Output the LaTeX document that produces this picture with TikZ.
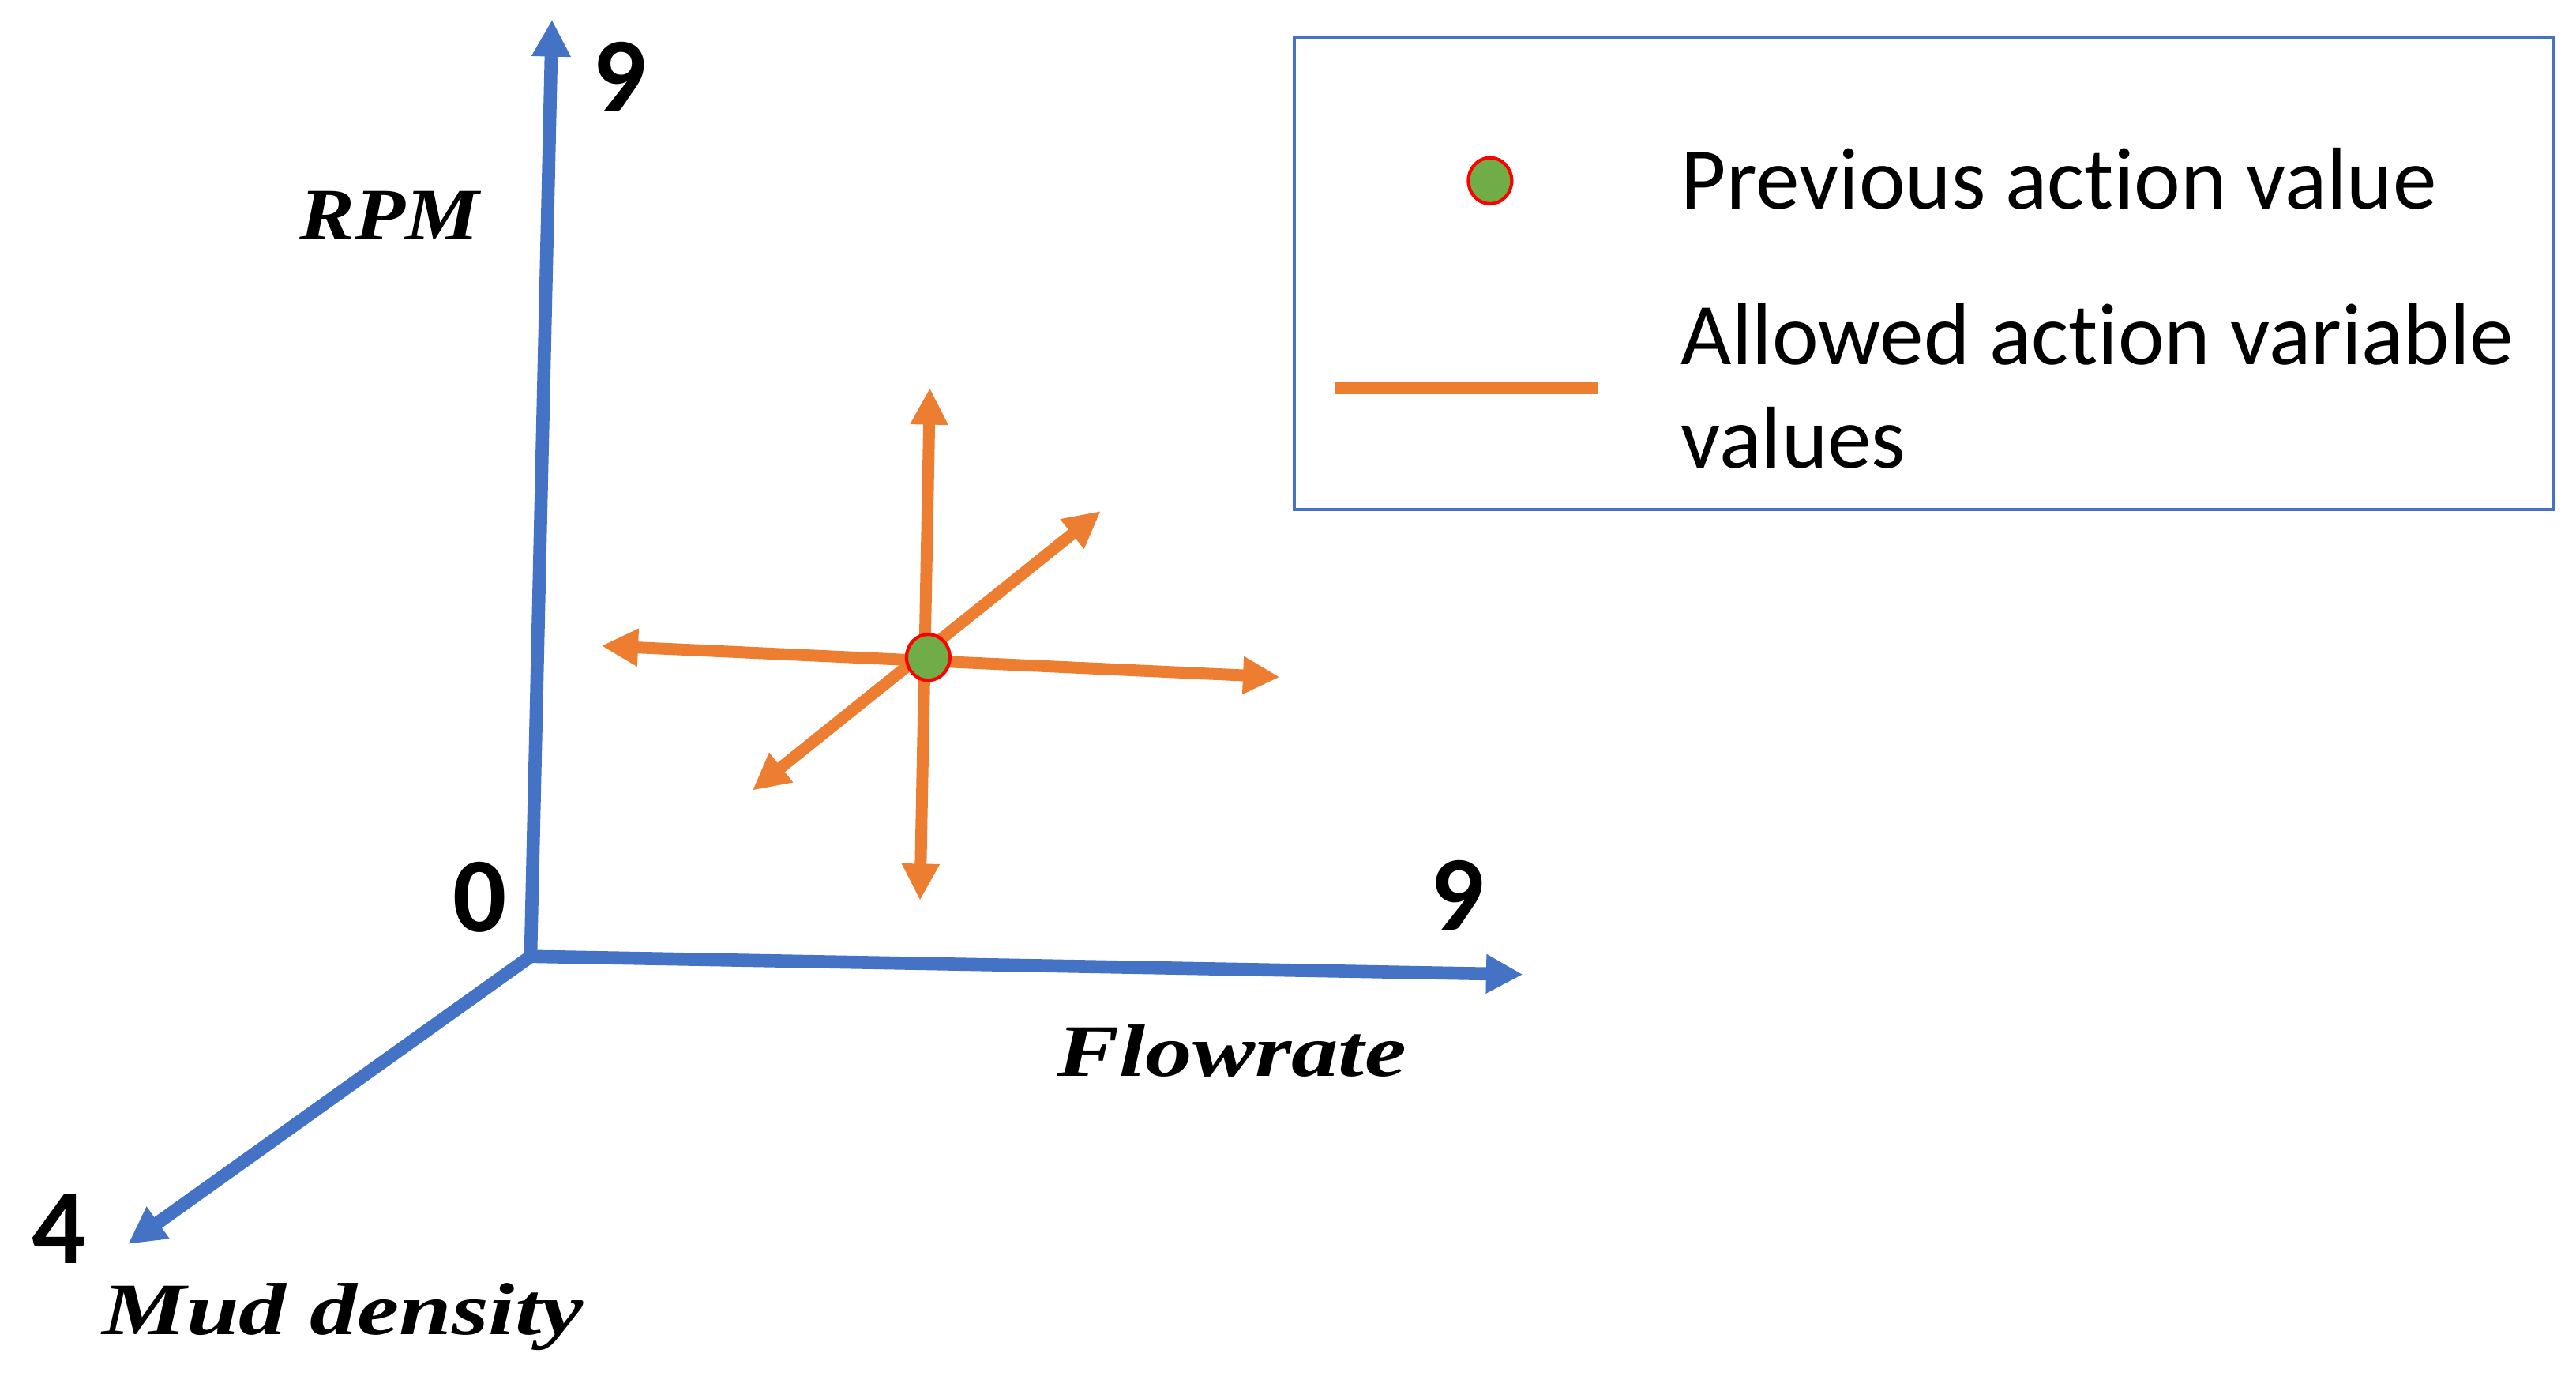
\documentclass[tikz,border=0pt]{standalone}
\usepackage{fontspec}
\setmainfont{Carlito}[Ligatures=NoCommon]
\newfontfamily\labfont{Liberation Serif}
\usetikzlibrary{arrows.meta,shapes.geometric}
\definecolor{axblue}{HTML}{4472C4}
\definecolor{arorange}{HTML}{ED7D31}
\definecolor{dotgreen}{HTML}{70AD47}
\begin{document}
\begin{tikzpicture}[x=0.25mm,y=-0.25mm,
 axis/.style={draw=axblue,line width=2mm,-{Triangle[length=5.6mm,width=5.6mm]}},
 move/.style={draw=arorange,line width=1.8mm,{Triangle[length=5.6mm,width=5.4mm]}-{Triangle[length=5.6mm,width=5.4mm]}},
 tick/.style={font=\fontsize{46}{54}\selectfont\bfseries,inner sep=0},
 axlab/.style={font=\labfont\fontsize{32}{38}\selectfont\bfseries\itshape,inner sep=0,anchor=base west},
 legtext/.style={font=\fontsize{38}{46}\selectfont,inner sep=0,anchor=base west},
 prevdot/.style={ellipse,draw=red,line width=0.5mm,fill=dotgreen,minimum width=6.6mm,minimum height=7mm,inner sep=0},
 legbox/.style={draw=axblue,line width=0.5mm}
]
\useasboundingbox (0,0) rectangle (1568,837);
% axes
\coordinate (O) at (323,582);
\coordinate (rpmEnd) at (336,12);
\coordinate (flowEnd) at (927,593);
\coordinate (mudEnd) at (78,757);
\draw[axis] (O) -- (rpmEnd);
\draw[axis] (O) -- (flowEnd);
\draw[axis] (O) -- (mudEnd);
% tick numbers
\node[tick] (t9a) at (377,47) {9};
\node[tick] (t0) at (292,546) {0};
\node[tick] (t9b) at (887,545) {9};
\node[tick] (t4) at (36,748) {4};
% axis labels
\node[axlab] (lrpm) at (182,146) {\scalebox{1.12}[1]{RPM}};
\node[axlab] (lflow) at (643,655) {\scalebox{1.27}[1]{Flowrate}};
\node[axlab] (lmud) at (62,812) {\scalebox{1.28}[1]{Mud density}};
% allowed moves
\coordinate (up) at (566,236);
\coordinate (down) at (560,548);
\coordinate (left) at (366,393);
\coordinate (right) at (779,412);
\coordinate (ur) at (670,311);
\coordinate (dl) at (458,481);
\draw[move] (down) -- (up);
\draw[move] (left) -- (right);
\draw[move] (dl) -- (ur);
\node[prevdot] (c) at (565,400) {};
% legend
\node[legbox,minimum width=191.5mm,minimum height=71.75mm,anchor=north west] (leg) at (787,22) {};
\node[prevdot] (ldot) at (907,110) {};
\coordinate (ll1) at (813,236);
\coordinate (ll2) at (973,236);
\draw[draw=arorange,line width=2mm] (ll1) -- (ll2);
\node[legtext] (lt1) at (1023,127) {Previous action value};
\node[legtext] (lt2) at (1023,222) {Allowed action variable};
\node[legtext] (lt3) at (1023,285) {values};
\end{tikzpicture}
\end{document}
